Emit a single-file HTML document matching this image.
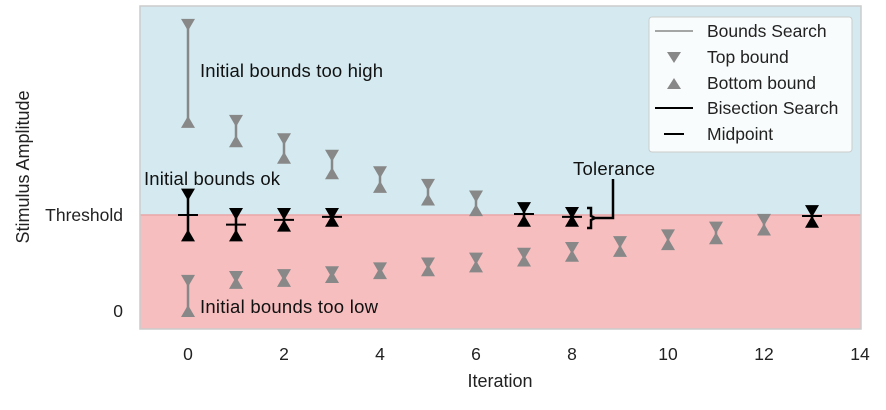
<!DOCTYPE html>
<html><head><meta charset="utf-8"><style>
body{margin:0;background:#fff;width:886px;height:405px;overflow:hidden}
svg text{font-family:"Liberation Sans",Arial,sans-serif}
</style></head><body>
<svg id="chart" width="886" height="405" xmlns="http://www.w3.org/2000/svg">
<rect x="140" y="6" width="721" height="209" fill="#d4eaf0"/>
<rect x="140" y="215" width="721" height="114" fill="#f6bebf"/>
<line x1="140" y1="215" x2="861" y2="215" stroke="#eaa5a7" stroke-width="1.5"/>
<rect x="140" y="6" width="721" height="323" fill="none" stroke="#ccc" stroke-width="1.5"/>
<g id="marks"></g>
<g font-size="17.5" fill="#222">
<text x="123" y="221" text-anchor="end">Threshold</text>
<text x="123" y="317" text-anchor="end">0</text>
<text transform="translate(29,167) rotate(-90)" text-anchor="middle" font-size="18">Stimulus Amplitude</text>
<text x="500" y="387" text-anchor="middle" font-size="18">Iteration</text>
</g>
<g id="xticks" font-size="17.5" fill="#222"></g>
<g font-size="18.5" fill="#111">
<text x="200" y="77" textLength="183">Initial bounds too high</text>
<text x="144" y="185" textLength="136">Initial bounds ok</text>
<text x="200" y="313" textLength="178">Initial bounds too low</text>
<text x="573" y="175" textLength="82">Tolerance</text>
</g>
<path d="M587,208 h4 v8 l4,2 l-4,2 v8 h-4 M595,218 h18 V179" fill="none" stroke="#000" stroke-width="2.5"/>
<g>
<rect x="649" y="17" width="203" height="135" rx="3" fill="#fff" fill-opacity="0.85" stroke="#ccc"/>
<line x1="655" y1="31" x2="693" y2="31" stroke="#888" stroke-width="1.5"/>
<path d="M667,52 h14 l-7,11z" fill="#888"/>
<path d="M667,89 h14 l-7,-11z" fill="#888"/>
<line x1="655" y1="108" x2="693" y2="108" stroke="#000" stroke-width="2"/>
<line x1="664" y1="134" x2="684" y2="134" stroke="#000" stroke-width="2"/>
<g font-size="17.5" fill="#222">
<text x="707" y="37">Bounds Search</text>
<text x="707" y="63">Top bound</text>
<text x="707" y="89">Bottom bound</text>
<text x="707" y="114">Bisection Search</text>
<text x="707" y="140">Midpoint</text>
</g></g>
</svg>
<script>
const xTicks=[0,2,4,6,8,10,12,14];
const highIter=[0,1,2,3,4,5,6];
const highTop=[2.95,1.96,1.77,1.60,1.43,1.30,1.18];
const highBottom=[1.95,1.75,1.58,1.42,1.28,1.15,1.04];
const lowIter=[0,1,2,3,4,5,6,7,8,9,10,11,12];
const lowTop=[0.31,0.35,0.37,0.40,0.44,0.49,0.54,0.59,0.65,0.71,0.78,0.86,0.94];
const lowBottom=[0,0.29,0.31,0.35,0.39,0.42,0.46,0.52,0.57,0.62,0.69,0.75,0.84];
const bisIter=[0,1,2,3,7,8,13];
const bisTop=[1.20,1.0,1.0,1.0,1.06,1.01,1.03];
const bisBottom=[0.78,0.78,0.88,0.93,0.93,0.93,0.92];
const bisMid=[0.99,0.89,0.94,0.97,1.0,0.97,0.98];
const xs=v=>188+v*48, ys=v=>311-v*97;
const NS='http://www.w3.org/2000/svg';
const g=document.getElementById('marks');
function mk(t,a){const e=document.createElementNS(NS,t);for(const k in a)e.setAttribute(k,a[k]);return e;}
function group(iters,tops,bots,col,name,mids){
 iters.forEach((it,i)=>{
  const x=xs(it),yt=ys(tops[i]),yb=ys(bots[i]);
  const l=mk('line',{x1:x,y1:yt,x2:x,y2:yb,stroke:col,'stroke-width':2.5});
  
  
  g.appendChild(l);
  const t=mk('path',{d:`M${x-7},${yt-6} h14 l-7,12z`,fill:col});
  
  
  g.appendChild(t);
  const b=mk('path',{d:`M${x-7},${yb+6} h14 l-7,-12z`,fill:col});
  
  
  g.appendChild(b);
  if(mids){const m=mk('line',{x1:x-10,y1:ys(mids[i]),x2:x+10,y2:ys(mids[i]),stroke:'#000','stroke-width':2});
   
   
   g.appendChild(m);}
 });
}
group(highIter,highTop,highBottom,'#888','high-bounds');
group(lowIter,lowTop,lowBottom,'#888','low-bounds');
group(bisIter,bisTop,bisBottom,'#000','bisection',bisMid);
const xt=document.getElementById('xticks');
xTicks.forEach(v=>{const t=mk('text',{x:xs(v),y:360,'text-anchor':'middle'});t.textContent=v;
 
 
 xt.appendChild(t);});
</script>
</body></html>
